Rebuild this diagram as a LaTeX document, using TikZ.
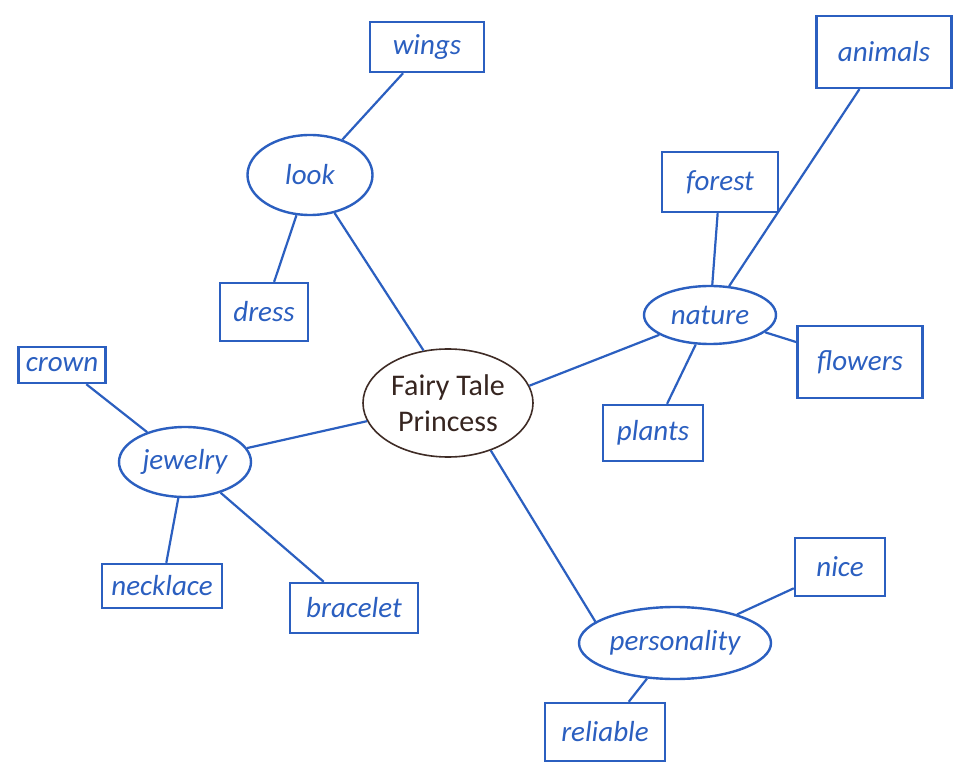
\documentclass[tikz,border=0pt]{standalone}
\usepackage{fontspec}
\setmainfont{Carlito}
\usepackage{tikz}
\usetikzlibrary{shapes}
\usetikzlibrary{positioning}

\definecolor{penblue}{HTML}{2B5FC0}
\definecolor{rootbrown}{HTML}{3F2C26}

\begin{document}
\begin{tikzpicture}[x=1pt, y=-1pt]
            \tikzset{every node/.style={inner sep=0pt},
                    root/.style={ellipse, draw=rootbrown, line width=1.6pt,
                        minimum width=170pt, minimum height=108pt, align=center,
                        text=rootbrown!85!black, font=\fontsize{30}{36}\selectfont},
                    topic/.style={ellipse, draw=penblue, line width=2.4pt,
                        text=penblue, font=\itshape\fontsize{29}{34}\selectfont},
                    leaf/.style={rectangle, draw=penblue, line width=2.4pt,
                        text=penblue, font=\itshape\fontsize{29}{34}\selectfont},
                    every edge/.style={draw=penblue, line width=2.2pt}}
            \useasboundingbox (0,0) rectangle (958,775);
            \fill[white] (0,0) rectangle (958,775);
            % centre
            \node[root] (princess) at (448, 403) {Fairy Tale\\Princess};
            % branches
            \node[topic, minimum width=125pt, minimum height=80pt] (look) at (310, 175) {look};
            \node[topic, minimum width=132pt, minimum height=70pt] (jewelry) at (185, 462) {jewelry};
            \node[topic, minimum width=132pt, minimum height=58pt] (nature) at (710, 315) {nature};
            \node[topic, minimum width=192pt, minimum height=72pt] (personality) at (675, 643) {personality};
            % leaves
            \node[leaf, minimum width=114pt, minimum height=50pt] (wings) at (427, 47) {wings};
            \node[leaf, minimum width=88pt, minimum height=58pt] (dress) at (264, 312) {dress};
            \node[leaf, minimum width=87pt, minimum height=36pt] (crown) at (62, 365) {crown};
            \node[leaf, minimum width=120pt, minimum height=44pt] (necklace) at (162, 586) {necklace};
            \node[leaf, minimum width=128pt, minimum height=50pt] (bracelet) at (354, 608) {bracelet};
            \node[leaf, minimum width=116pt, minimum height=60pt] (forest) at (720, 182) {forest};
            \node[leaf, minimum width=135pt, minimum height=72pt] (animals) at (884, 52) {animals};
            \node[leaf, minimum width=125pt, minimum height=72pt] (flowers) at (860, 362) {flowers};
            \node[leaf, minimum width=100pt, minimum height=56pt] (plants) at (653, 433) {plants};
            \node[leaf, minimum width=90pt, minimum height=58pt] (nice) at (840, 567) {nice};
            \node[leaf, minimum width=120pt, minimum height=58pt] (reliable) at (605, 732) {reliable};
            % connectors
            \path (princess.115) edge (look)
                  (princess) edge (jewelry)
                  (princess.12) edge (nature)
                  (princess.312) edge (personality.165)
                  (look) edge (wings)
                  (look) edge (dress)
                  (jewelry) edge (crown)
                  (jewelry) edge (necklace)
                  (jewelry) edge (bracelet)
                  (nature) edge (forest)
                  (nature) edge (animals)
                  (nature) edge (flowers)
                  (nature) edge (plants)
                  (personality) edge (nice)
                  (personality) edge (reliable);
        \end{tikzpicture}
\end{document}
